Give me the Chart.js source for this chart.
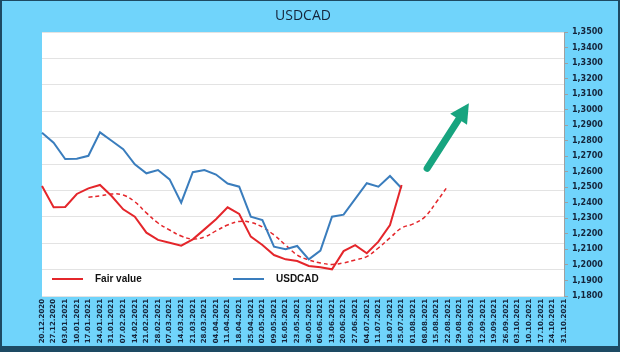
<!DOCTYPE html>
<html>
<head>
<meta charset="utf-8">
<script src="https://cdn.jsdelivr.net/npm/chart.js@4.4.1/dist/chart.umd.min.js"></script>
<style>
    html, body { margin: 0; padding: 0; background: #1d4a63; }
    #wrap { width: 620px; height: 352px; position: relative; }
</style>
</head>
<body>
<div id="wrap"><canvas id="myCanvas" width="620" height="352"></canvas></div>
<script>
var weeks = ['20.12.2020', '27.12.2020', '03.01.2021', '10.01.2021', '17.01.2021', '24.01.2021',
    '31.01.2021', '07.02.2021', '14.02.2021', '21.02.2021', '28.02.2021', '07.03.2021', '14.03.2021',
    '21.03.2021', '28.03.2021', '04.04.2021', '11.04.2021', '18.04.2021', '25.04.2021', '02.05.2021',
    '09.05.2021', '16.05.2021', '23.05.2021', '30.05.2021', '06.06.2021', '13.06.2021', '20.06.2021',
    '27.06.2021', '04.07.2021', '11.07.2021', '18.07.2021', '25.07.2021', '01.08.2021', '08.08.2021',
    '15.08.2021', '22.08.2021', '29.08.2021', '05.09.2021', '12.09.2021', '19.09.2021', '26.09.2021',
    '03.10.2021', '10.10.2021', '17.10.2021', '24.10.2021', '31.10.2021'];

var fairValue = [1.2508, 1.2371, 1.2373, 1.2457, 1.2493, 1.2515, 1.2444, 1.2358, 1.2311, 1.2208,
    1.2161, 1.2143, 1.2124, 1.2165, 1.2229, 1.2294, 1.2371, 1.2328, 1.2182, 1.2128, 1.2064, 1.2036,
    1.2025, 1.1993, 1.1985, 1.1972, 1.2089, 1.2128, 1.2075, 1.2150, 1.2257, 1.2515];

var usdcad = [1.2852, 1.2787, 1.2682, 1.2684, 1.2703, 1.2854, 1.2800, 1.2745, 1.2648, 1.2590,
    1.2611, 1.2551, 1.2401, 1.2597, 1.2611, 1.2582, 1.2524, 1.2504, 1.2311, 1.2289, 1.2118, 1.2101,
    1.2122, 1.2036, 1.2092, 1.2311, 1.2324, 1.2425, 1.2526, 1.2504, 1.2573, 1.2494];

// smoothed fair value trend (dashed), starts at 17.01.2021
var fairTrend = [null, null, null, null, 1.2436, 1.2444, 1.2457, 1.2450, 1.2407, 1.2335, 1.2270,
    1.2225, 1.2186, 1.2167, 1.2180, 1.2219, 1.2257, 1.2280, 1.2274, 1.2244, 1.2193, 1.2128, 1.2064,
    1.2032, 1.2013, 1.2003, 1.2013, 1.2032, 1.2054, 1.2109, 1.2174, 1.2238, 1.2264, 1.2309, 1.2405,
    1.2510];

var yTicks = [1.18, 1.19, 1.20, 1.21, 1.22, 1.23, 1.24, 1.25, 1.26, 1.27, 1.28, 1.29, 1.30, 1.31,
    1.32, 1.33, 1.34, 1.35];

// arrow: [category index, value] for tail and tip
var arrowFrom = [33.2, 1.2622];
var arrowTo = [36.8, 1.3041];

var RED = '#e4262b';
var BLUE = '#3a7dbd';
var GREEN = '#17a47f';

var framePlugin = {
    id: 'frame',
    beforeDraw: function (chart) {
        var ctx = chart.ctx, a = chart.chartArea;
        ctx.save();
        ctx.fillStyle = '#1d4a63';
        ctx.fillRect(0, 0, chart.width, chart.height);
        ctx.fillStyle = '#70d4fb';
        ctx.fillRect(2, 1, chart.width - 4, chart.height - 7);
        ctx.fillStyle = '#ffffff';
        ctx.fillRect(a.left, a.top, a.right - a.left, a.bottom - a.top);
        // title centred over the plot
        ctx.fillStyle = '#15243a';
        ctx.font = '14px "Open Sans"';
        ctx.textAlign = 'center';
        ctx.textBaseline = 'middle';
        ctx.fillText('USDCAD', (a.left + a.right) / 2, 16);
        ctx.restore();
    },
    afterDatasetsDraw: function (chart) {
        var ctx = chart.ctx, x = chart.scales.x, y = chart.scales.y;
        var x1 = x.getPixelForValue(arrowFrom[0]), y1 = y.getPixelForValue(arrowFrom[1]);
        var x2 = x.getPixelForValue(arrowTo[0]), y2 = y.getPixelForValue(arrowTo[1]);
        var ang = Math.atan2(y2 - y1, x2 - x1);
        var headLen = 19, headW = 10;
        var bx = x2 - headLen * Math.cos(ang), by = y2 - headLen * Math.sin(ang);
        ctx.save();
        ctx.strokeStyle = GREEN;
        ctx.fillStyle = GREEN;
        ctx.lineWidth = 7;
        ctx.lineCap = 'round';
        ctx.beginPath();
        ctx.moveTo(x1, y1);
        ctx.lineTo(bx, by);
        ctx.stroke();
        ctx.beginPath();
        ctx.moveTo(x2, y2);
        ctx.lineTo(bx + headW * Math.sin(ang), by - headW * Math.cos(ang));
        ctx.lineTo(bx - headW * Math.sin(ang), by + headW * Math.cos(ang));
        ctx.closePath();
        ctx.fill();
        ctx.restore();
    },
    afterDraw: function (chart) {
        // legend sits inside the plot, bottom left
        var ctx = chart.ctx, a = chart.chartArea;
        var offs = [10, 191];
        var ly = a.bottom - 17;
        var k = 0;
        ctx.save();
        ctx.font = 'bold 10px "Liberation Sans"';
        ctx.textBaseline = 'middle';
        ctx.textAlign = 'left';
        chart.data.datasets.forEach(function (ds) {
            if (!ds.label) return;
            var lx = a.left + offs[k++];
            ctx.strokeStyle = ds.borderColor;
            ctx.lineWidth = 2;
            ctx.beginPath();
            ctx.moveTo(lx, ly);
            ctx.lineTo(lx + 31, ly);
            ctx.stroke();
            ctx.fillStyle = '#111111';
            ctx.fillText(ds.label, lx + 43, ly);
        });
        ctx.restore();
    }
};

var ctx = document.getElementById('myCanvas').getContext('2d');
var myChart = new Chart(ctx, {
    type: 'line',
    data: {
        labels: weeks,
        datasets: [{
            label: 'Fair value',
            data: fairValue,
            borderColor: RED,
            borderWidth: 2,
            pointRadius: 0,
            tension: 0
        }, {
            label: 'USDCAD',
            data: usdcad,
            borderColor: BLUE,
            borderWidth: 2,
            pointRadius: 0,
            tension: 0
        }, {
            label: '',
            data: fairTrend,
            borderColor: RED,
            borderWidth: 1.5,
            borderDash: [4, 3],
            pointRadius: 0,
            tension: 0.4
        }]
    },
    options: {
        responsive: false,
        animation: false,
        events: [],
        layout: { padding: { left: 42, top: 32, right: 0, bottom: 0 } },
        plugins: {
            legend: { display: false },
            title: { display: false },
            tooltip: { enabled: false }
        },
        scales: {
            x: {
                offset: false,
                grid: { display: false, drawTicks: false },
                border: { display: false },
                ticks: {
                    autoSkip: false,
                    maxRotation: 90,
                    minRotation: 90,
                    padding: 3,
                    color: '#15243a',
                    font: { family: 'DejaVu Sans', size: 7, weight: 'bold' }
                },
                afterFit: function (scale) { scale.height = 56; }
            },
            y: {
                position: 'right',
                min: 1.18,
                max: 1.35,
                grid: { drawOnChartArea: false, drawTicks: true, tickLength: 4, color: '#a0a0a0' },
                border: { display: true, color: '#a0a0a0' },
                afterBuildTicks: function (scale) {
                    scale.ticks = yTicks.map(function (v) { return { value: v }; });
                },
                ticks: {
                    autoSkip: false,
                    padding: 4,
                    color: '#15243a',
                    font: { family: 'DejaVu Sans', size: 8, weight: 'bold' },
                    callback: function (v) { return v.toFixed(4).replace('.', ','); }
                },
                afterFit: function (scale) { scale.width = 56; }
            },
            g: {
                position: 'left',
                min: 0,
                max: 10,
                ticks: { display: false, stepSize: 1 },
                grid: { color: '#e3e3e3', drawTicks: false },
                border: { display: false },
                afterFit: function (scale) { scale.width = 0; }
            }
        }
    },
    plugins: [framePlugin]
});
</script>
</body>
</html>
